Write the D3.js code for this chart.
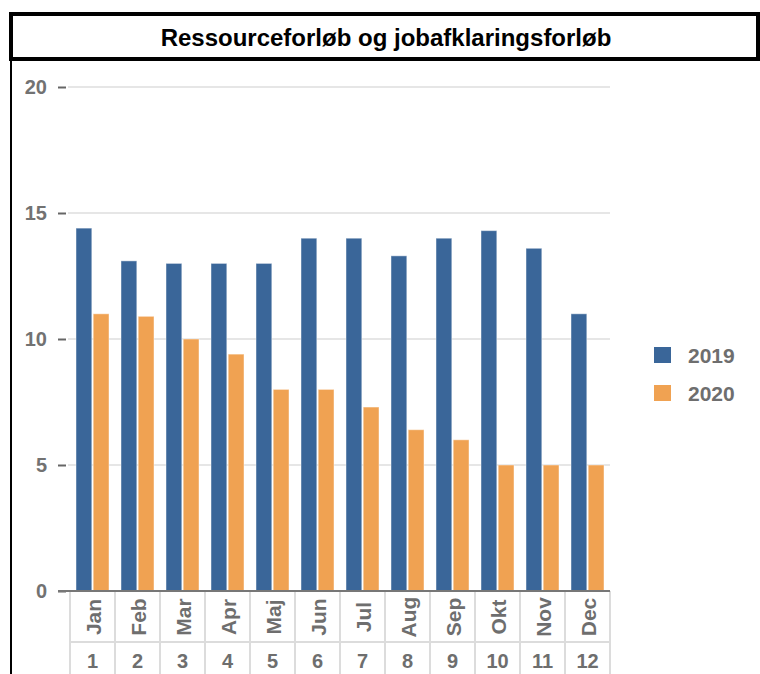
<!DOCTYPE html>
<html>
<head>
<meta charset="utf-8">
<script src="https://cdn.jsdelivr.net/npm/d3@7"></script>
<style>
  body { margin: 0; background: #fff; }
  text { font-family: "Liberation Sans", Arial, sans-serif; }
</style>
</head>
<body>
<svg id="chart" width="760" height="674"></svg>
<script>
// data
var months = ["Jan", "Feb", "Mar", "Apr", "Maj", "Jun", "Jul", "Aug", "Sep", "Okt", "Nov", "Dec"];
var monthNums = ["1", "2", "3", "4", "5", "6", "7", "8", "9", "10", "11", "12"];
var years = ["2019", "2020"];
var values2019 = [14.4, 13.1, 13.0, 13.0, 13.0, 14.0, 14.0, 13.3, 14.0, 14.3, 13.6, 11.0];
var values2020 = [11.0, 10.9, 10.0, 9.4, 8.0, 8.0, 7.3, 6.4, 6.0, 5.0, 5.0, 5.0];
var yTicks = [0, 5, 10, 15, 20];
var colors = ["#3a6699", "#f0a252"];

var svg = d3.select("#chart");

// title box
svg.append("rect")
  .attr("x", 11).attr("y", 14)
  .attr("width", 747).attr("height", 45)
  .attr("fill", "#fff")
  .attr("stroke", "#000")
  .attr("stroke-width", 4);

svg.append("text")
  .attr("x", 386).attr("y", 46)
  .attr("text-anchor", "middle")
  .style("font-size", "24px")
  .style("font-weight", "bold")
  .attr("fill", "#000")
  .text("Ressourceforløb og jobafklaringsforløb");

// left frame line
svg.append("line")
  .attr("x1", 11).attr("x2", 11)
  .attr("y1", 61).attr("y2", 674)
  .attr("stroke", "#000").attr("stroke-width", 2);

var x0 = d3.scaleBand().domain(months).range([70, 610]).paddingInner(0).paddingOuter(0);
var x1 = d3.scaleBand().domain(years).range([6, x0.bandwidth() - 6]).paddingInner(0.08);
var y = d3.scaleLinear().domain([0, 20]).range([591, 87]);

// gridlines
svg.append("g").selectAll("line")
  .data(yTicks.filter(function (d) { return d > 0; }))
  .enter().append("line")
  .attr("x1", 68).attr("x2", 610)
  .attr("y1", function (d) { return y(d); })
  .attr("y2", function (d) { return y(d); })
  .attr("stroke", "#e6e6e6").attr("stroke-width", 2);

// y axis
var yAxis = svg.append("g")
  .attr("transform", "translate(66,0)")
  .call(d3.axisLeft(y).tickValues(yTicks).tickSize(8).tickPadding(11));
yAxis.select(".domain").remove();
yAxis.selectAll(".tick line").attr("stroke", "#666").attr("stroke-width", 2);
yAxis.selectAll(".tick text")
  .attr("fill", "#727272")
  .style("font-size", "20px")
  .style("font-weight", "bold")
  .style("font-family", "'Liberation Sans', Arial, sans-serif");

// bars
var rows = months.map(function (m, i) {
  return { month: m, vals: [values2019[i], values2020[i]] };
});
var group = svg.append("g").selectAll("g")
  .data(rows)
  .enter().append("g")
  .attr("transform", function (d) { return "translate(" + x0(d.month) + ",0)"; });

group.selectAll("rect")
  .data(function (d) { return d.vals.map(function (v, j) { return { year: years[j], value: v, j: j }; }); })
  .enter().append("rect")
  .attr("x", function (d) { return x1(d.year); })
  .attr("width", x1.bandwidth())
  .attr("y", function (d) { return y(d.value); })
  .attr("height", function (d) { return y(0) - y(d.value); })
  .attr("fill", function (d) { return colors[d.j]; })
  .attr("stroke", "rgba(255,255,255,0.45)")
  .attr("stroke-width", 1);

// axis table grid
var tableTop = 591, rowSplit = 642, tableBottom = 674;
var tbl = svg.append("g");
tbl.selectAll("line.v")
  .data(months.concat(["end"]))
  .enter().append("line")
  .attr("class", "v")
  .attr("x1", function (d, i) { return i < months.length ? x0(d) : 610; })
  .attr("x2", function (d, i) { return i < months.length ? x0(d) : 610; })
  .attr("y1", tableTop).attr("y2", tableBottom)
  .attr("stroke", "#dcdcdc").attr("stroke-width", 2);
tbl.append("line")
  .attr("x1", 70).attr("x2", 610)
  .attr("y1", rowSplit).attr("y2", rowSplit)
  .attr("stroke", "#dcdcdc").attr("stroke-width", 2);

// x axis line
svg.append("line")
  .attr("x1", 58).attr("x2", 610)
  .attr("y1", y(0)).attr("y2", y(0))
  .attr("stroke", "#777").attr("stroke-width", 2);

// month labels (rotated)
svg.append("g").selectAll("text")
  .data(months)
  .enter().append("text")
  .attr("transform", function (d) {
    return "translate(" + (x0(d) + x0.bandwidth() / 2 + 8) + ",617) rotate(-90)";
  })
  .attr("text-anchor", "middle")
  .attr("fill", "#6e6e6e")
  .style("font-size", "21px")
  .style("font-weight", "bold")
  .text(function (d) { return d; });

// month numbers
svg.append("g").selectAll("text")
  .data(monthNums)
  .enter().append("text")
  .attr("x", function (d, i) { return x0(months[i]) + x0.bandwidth() / 2; })
  .attr("y", 668)
  .attr("text-anchor", "middle")
  .attr("fill", "#6e6e6e")
  .style("font-size", "20px")
  .style("font-weight", "bold")
  .text(function (d) { return d; });

// legend
var legend = svg.append("g").selectAll("g")
  .data(years)
  .enter().append("g")
  .attr("transform", function (d, i) { return "translate(654," + (347 + i * 38) + ")"; });
legend.append("rect")
  .attr("width", 17).attr("height", 16)
  .attr("fill", function (d, i) { return colors[i]; });
legend.append("text")
  .attr("x", 34).attr("y", 16)
  .attr("fill", "#6e6e6e")
  .style("font-size", "21px")
  .style("font-weight", "bold")
  .text(function (d) { return d; });
</script>
</body>
</html>
